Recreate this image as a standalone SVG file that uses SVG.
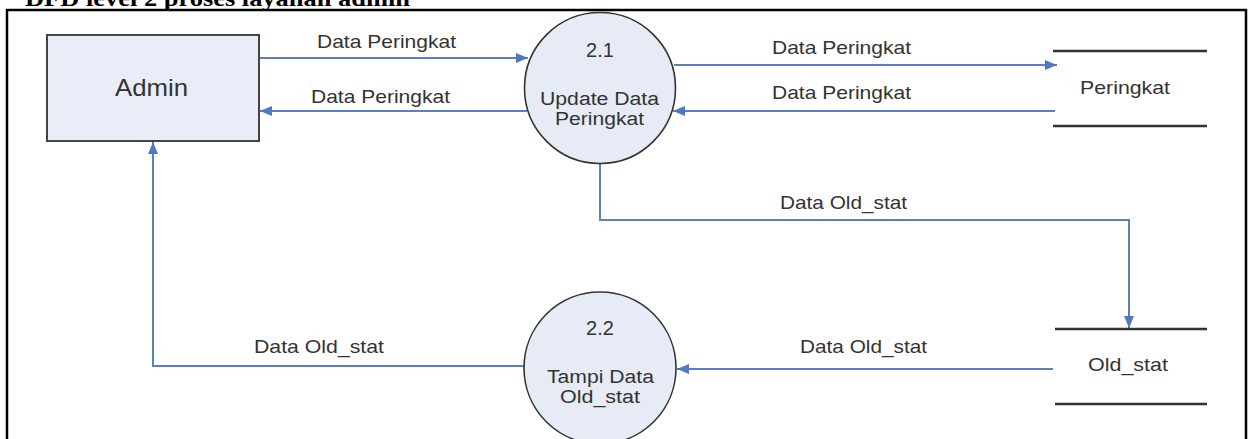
<svg xmlns="http://www.w3.org/2000/svg" width="1248" height="439" viewBox="0 0 1248 439">
<style>
.t{font-family:"Liberation Sans",Arial,sans-serif;font-size:20px;fill:#333}
.s{font-size:18.5px}
.m{font-size:18px}
.c{text-anchor:middle}
.big{font-size:24px}
.flow{fill:none;stroke:#5a80c0;stroke-width:2}
.proc{fill:#e6ebf5;stroke:#333;stroke-width:1.6}
.store{stroke:#333;stroke-width:2.5}
</style>
<defs>
<marker id="arr" viewBox="0 0 12 10" refX="12" refY="5" markerWidth="12" markerHeight="10" markerUnits="userSpaceOnUse" orient="auto">
<path d="M0,0 L12,5 L0,10 z" fill="#4f78be"/>
</marker>
</defs>
<rect width="1248" height="439" fill="#fff"/>
<text x="25" y="6" font-family="Liberation Serif,Times New Roman,serif" font-weight="bold" font-size="24" fill="#000" textLength="385" lengthAdjust="spacingAndGlyphs">DFD level 2 proses layanan admin</text>
<rect x="7" y="10" width="1239" height="445" fill="none" stroke="#000" stroke-width="2.5"/>
<g id="connectors">
<path class="flow" d="M259,58 H528" marker-end="url(#arr)"/>
<path class="flow" d="M527,111 H260" marker-end="url(#arr)"/>
<path class="flow" d="M674,65 H1057" marker-end="url(#arr)"/>
<path class="flow" d="M1055,111 H673" marker-end="url(#arr)"/>
<path class="flow" d="M600,163 V220 H1129 V328" marker-end="url(#arr)"/>
<path class="flow" d="M1053,369 H677" marker-end="url(#arr)"/>
<path class="flow" d="M524,366 H153 V142" marker-end="url(#arr)"/>
<text class="t s" x="317" y="48" textLength="139" lengthAdjust="spacingAndGlyphs">Data Peringkat</text>
<text class="t s" x="311" y="103" textLength="139" lengthAdjust="spacingAndGlyphs">Data Peringkat</text>
<text class="t s" x="772" y="54" textLength="139" lengthAdjust="spacingAndGlyphs">Data Peringkat</text>
<text class="t s" x="772" y="99" textLength="139" lengthAdjust="spacingAndGlyphs">Data Peringkat</text>
<text class="t s" x="780" y="209" textLength="127" lengthAdjust="spacingAndGlyphs">Data Old_stat</text>
<text class="t s" x="800" y="353" textLength="127" lengthAdjust="spacingAndGlyphs">Data Old_stat</text>
<text class="t s" x="254" y="353" textLength="130" lengthAdjust="spacingAndGlyphs">Data Old_stat</text>
</g>
<g id="admin">
<rect x="47" y="35" width="212" height="106" fill="#e8edf7" stroke="#444" stroke-width="2"/>
<text class="t big" x="115" y="96" textLength="73" lengthAdjust="spacingAndGlyphs">Admin</text>
</g>
<g id="p21">
<circle class="proc" cx="600" cy="88" r="75.5"/>
<text class="t c" x="600" y="57">2.1</text>
<text class="t m" x="540" y="105" textLength="119" lengthAdjust="spacingAndGlyphs">Update Data</text>
<text class="t m" x="555" y="125" textLength="89" lengthAdjust="spacingAndGlyphs">Peringkat</text>
</g>
<g id="p22">
<circle class="proc" cx="600" cy="368" r="76"/>
<text class="t c" x="600" y="335">2.2</text>
<text class="t m" x="547" y="383" textLength="107" lengthAdjust="spacingAndGlyphs">Tampi Data</text>
<text class="t m" x="560" y="403" textLength="80" lengthAdjust="spacingAndGlyphs">Old_stat</text>
</g>
<g id="store_peringkat">
<line class="store" x1="1053" y1="51" x2="1207" y2="51"/>
<line class="store" x1="1053" y1="126" x2="1207" y2="126"/>
<text class="t s" x="1080" y="94" textLength="90" lengthAdjust="spacingAndGlyphs">Peringkat</text>
</g>
<g id="store_oldstat">
<line class="store" x1="1055" y1="329" x2="1207" y2="329"/>
<line class="store" x1="1055" y1="404" x2="1207" y2="404"/>
<text class="t s" x="1088" y="371" textLength="80" lengthAdjust="spacingAndGlyphs">Old_stat</text>
</g>
</svg>
